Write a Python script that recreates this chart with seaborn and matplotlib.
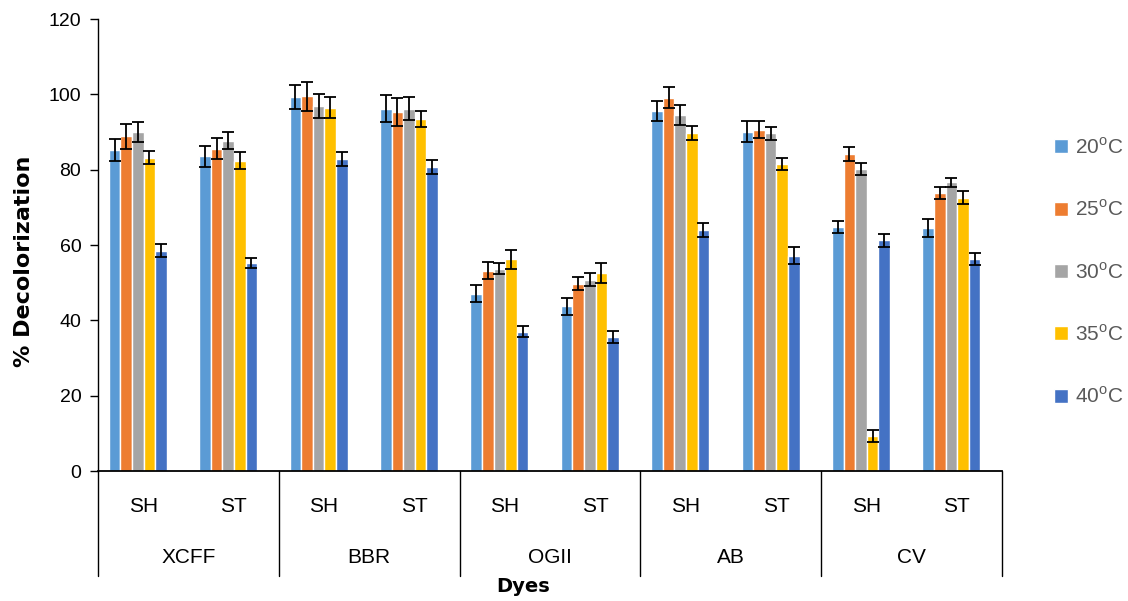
import numpy as np
import pandas as pd
import matplotlib
matplotlib.use("Agg")
import matplotlib.pyplot as plt
import seaborn as sns

dyes = ["XCFF", "BBR", "OGII", "AB", "CV"]
strains = ["SH", "ST"]
temps = ["20$^{\\mathrm{o}}$C", "25$^{\\mathrm{o}}$C", "30$^{\\mathrm{o}}$C",
         "35$^{\\mathrm{o}}$C", "40$^{\\mathrm{o}}$C"]
colors = ["#5B9BD5", "#ED7D31", "#A5A5A5", "#FFC000", "#4472C4"]

# values in order XCFF-SH, XCFF-ST, BBR-SH, BBR-ST, OGII-SH, OGII-ST, AB-SH, AB-ST, CV-SH, CV-ST
v20 = [85.2, 83.5, 99.4, 96.2, 47.1, 43.7, 95.6, 90.1, 64.9, 64.5]
v25 = [88.9, 85.6, 99.5, 95.4, 53.2, 49.7, 99.1, 90.6, 84.2, 73.9]
v30 = [90.0, 87.7, 97.0, 96.2, 53.7, 50.8, 94.5, 89.7, 80.1, 76.6]
v35 = [83.2, 82.4, 96.4, 93.5, 56.2, 52.6, 89.8, 81.5, 9.3, 72.6]
v40 = [58.5, 55.2, 82.9, 80.7, 37.0, 35.6, 64.0, 57.2, 61.2, 56.3]

e20 = [2.9, 2.7, 3.2, 3.6, 2.25, 2.2, 2.6, 2.8, 1.6, 2.4]
e25 = [3.3, 2.7, 3.8, 3.7, 2.3, 1.7, 2.8, 2.25, 1.8, 1.6]
e30 = [2.7, 2.3, 3.2, 3.0, 1.4, 1.8, 2.7, 1.7, 1.6, 1.2]
e35 = [1.8, 2.3, 2.8, 2.2, 2.5, 2.6, 1.8, 1.5, 1.5, 1.7]
e40 = [1.7, 1.3, 1.8, 1.9, 1.5, 1.6, 1.8, 2.25, 1.7, 1.5]

values = [v20, v25, v30, v35, v40]
errors = [e20, e25, e30, e35, e40]

positions = [f"{d}|{s}" for d in dyes for s in strains]
rows = []
for t, vals, errs in zip(temps, values, errors):
    for p, v, e in zip(positions, vals, errs):
        rows.append({"pos": p, "temp": t, "value": v, "err": e})
df = pd.DataFrame(rows)

sns.set_theme(style="white")
plt.rcParams["font.family"] = ["Liberation Sans", "DejaVu Sans"]
plt.rcParams["mathtext.fontset"] = "custom"
plt.rcParams["mathtext.rm"] = "Liberation Sans"

fig = plt.figure(figsize=(11.28, 6.01), dpi=100)
ax = fig.add_axes([98 / 1128, 1 - 471 / 601, (1002 - 98) / 1128, (471 - 19) / 601])

sns.barplot(data=df, x="pos", y="value", hue="temp", order=positions,
            hue_order=temps, palette=colors, width=0.64, errorbar=None,
            edgecolor="white", linewidth=1.0, saturation=1, ax=ax)

# error bars at bar centers
for cont, errs in zip(ax.containers, errors):
    xs = [b.get_x() + b.get_width() / 2 for b in cont]
    hs = [b.get_height() for b in cont]
    ax.errorbar(xs, hs, yerr=errs, fmt="none", ecolor="black",
                elinewidth=1.3, capsize=4.5, capthick=1.3, zorder=5)

# Excel draws clusters slightly left of the category centre
off = 0.06
ax.set_ylim(0, 120)
ax.set_xlim(-0.5 + off, len(positions) - 0.5 + off)
ax.set_yticks(np.arange(0, 121, 20))
ax.tick_params(axis="y", which="major", left=True, length=6, width=1,
               color="black", labelsize=14, labelcolor="black", pad=6)
ax.tick_params(axis="x", bottom=False, labelbottom=False)
ax.set_xlabel("")
ax.set_ylabel("% Decolorization", fontsize=16, fontweight="bold",
              color="black", family="DejaVu Sans")
ax.yaxis.set_label_coords(-0.071, 0.465)
for s in ["top", "right"]:
    ax.spines[s].set_visible(False)
ax.spines["left"].set_color("black")
ax.spines["left"].set_linewidth(1.0)
ax.spines["bottom"].set_color("black")
ax.spines["bottom"].set_linewidth(1.3)

# hierarchical category axis
trans = ax.get_xaxis_transform()
for i, p in enumerate(positions):
    ax.text(i + off, -0.078, p.split("|")[1], transform=trans, ha="center",
            va="center", fontsize=15, color="black")
for j, d in enumerate(dyes):
    ax.text(2 * j + 0.5 + off, -0.192, d, transform=trans, ha="center",
            va="center", fontsize=15, color="black")
for k in range(len(dyes) + 1):
    xb = 2 * k - 0.5 + off
    ax.plot([xb, xb], [0, -0.232], transform=trans, color="black",
            lw=1.0, clip_on=False)
ax.text(4.2 + off, -0.255, "Dyes", transform=trans, ha="center", va="center",
        fontsize=14, fontweight="bold", color="black", family="DejaVu Sans")

leg = ax.get_legend()
handles = leg.legend_handles
leg.remove()
fig.legend(handles, temps, loc="center left",
           bbox_to_anchor=(1054 / 1128, 1 - 272 / 601), frameon=False,
           borderaxespad=0, borderpad=0,
           fontsize=15, labelcolor="#595959", handlelength=0.65,
           handleheight=0.65, handletextpad=0.35, labelspacing=2.0)

fig.savefig("out.png", dpi=100)
